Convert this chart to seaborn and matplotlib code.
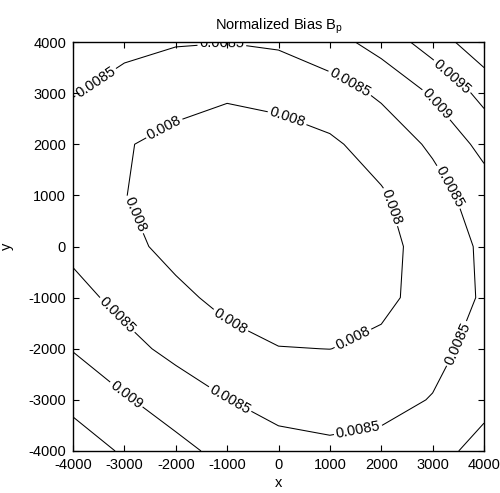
import numpy as np
import pandas as pd
import seaborn as sns
import matplotlib
matplotlib.use("Agg")
import matplotlib.pyplot as plt

# grid coordinates
x_vals = [-4000, -3000, -2000, -1000, 0, 1000, 2000, 3000, 4000]
y_vals = [-4000, -3000, -2000, -1000, 0, 1000, 2000, 3000, 4000]

# normalized bias values estimated on the grid (one list per y row)
bias_y_m4000 = [0.00975, 0.009445, 0.009145, 0.00885, 0.008665, 0.0086, 0.00866, 0.008845, 0.00915]
bias_y_m3000 = [0.009375, 0.00905, 0.00876, 0.00851, 0.00833, 0.008275, 0.008335, 0.008525, 0.008875]
bias_y_m2000 = [0.008975, 0.008645, 0.008375, 0.008125, 0.00801, 0.0079975, 0.00806, 0.00834, 0.0087]
bias_y_m1000 = [0.00865, 0.008365, 0.008085, 0.0079, 0.0078125, 0.007825, 0.007935, 0.00811, 0.008575]
bias_y_0 = [0.008395, 0.0081, 0.00789, 0.00777, 0.00773, 0.00778, 0.007905, 0.008125, 0.0086]
bias_y_1000 = [0.008245, 0.00801, 0.00783, 0.007745, 0.007745, 0.00782, 0.00795, 0.0083, 0.00875]
bias_y_2000 = [0.00825, 0.008025, 0.0079, 0.00784, 0.007855, 0.007925, 0.0082, 0.00858, 0.00915]
bias_y_3000 = [0.008525, 0.008285, 0.008125, 0.00804, 0.0081, 0.008285, 0.008575, 0.009055, 0.00965]
bias_y_4000 = [0.00875, 0.00865, 0.00854, 0.00851, 0.008575, 0.0088, 0.009205, 0.009725, 0.01035]

levels = [0.008, 0.0085, 0.009, 0.0095, 0.01]
tick_vals = [-4000, -3000, -2000, -1000, 0, 1000, 2000, 3000, 4000]

# where the contour labels sit (approximate anchor points near each labeled line)
label_anchors = [
    (-3550, 3200), (-1100, 3950), (1420, 3250), (3300, 1150), (3600, -1950),
    (1550, -3600), (-950, -3000), (-3200, -1400),
    (-2300, 2450), (200, 2600), (2200, 780), (-2850, 600), (-950, -1480), (1500, -1900),
    (3100, 2800), (-3000, -2950),
    (3400, 3350),
]

rows = [bias_y_m4000, bias_y_m3000, bias_y_m2000, bias_y_m1000, bias_y_0,
        bias_y_1000, bias_y_2000, bias_y_3000, bias_y_4000]
df = pd.DataFrame(rows, index=y_vals, columns=x_vals)

sns.set_style("white")
plt.rcParams["font.family"] = ["Liberation Sans", "DejaVu Sans"]
plt.rcParams["axes.unicode_minus"] = False
plt.rcParams["mathtext.default"] = "regular"

fig = plt.figure(figsize=(5.0, 4.93), dpi=100)
ax = fig.add_axes([73 / 500, 1 - 451 / 493, 411 / 500, 409 / 493])

X, Y = np.meshgrid(df.columns.values, df.index.values)
cs = ax.contour(X, Y, df.values, levels=levels, colors="black", linewidths=0.75)

def fmt(v):
    s = f"{v:.4f}".rstrip("0")
    return s

ax.clabel(cs, levels=levels[:4], manual=label_anchors, inline=True, inline_spacing=2,
          fmt=fmt, fontsize=10.5, colors="black")

ax.set_xlim(-4000, 4000)
ax.set_ylim(-4000, 4000)
ax.set_xticks(tick_vals)
ax.set_yticks(tick_vals)
ax.tick_params(direction="in", top=True, right=True, bottom=True, left=True,
               length=4, width=0.8, color="black", labelsize=10.5, pad=5,
               labelcolor="black")
for s in ax.spines.values():
    s.set_color("black")
    s.set_linewidth(1.0)

ax.set_title("Normalized Bias B$_{p}$", fontsize=10.5, pad=9, color="black")
ax.set_xlabel("x", fontsize=10.5, labelpad=3, color="black")
ax.set_ylabel("y", fontsize=10.5, labelpad=10, color="black")

fig.savefig("out.png", dpi=100, facecolor="white")
